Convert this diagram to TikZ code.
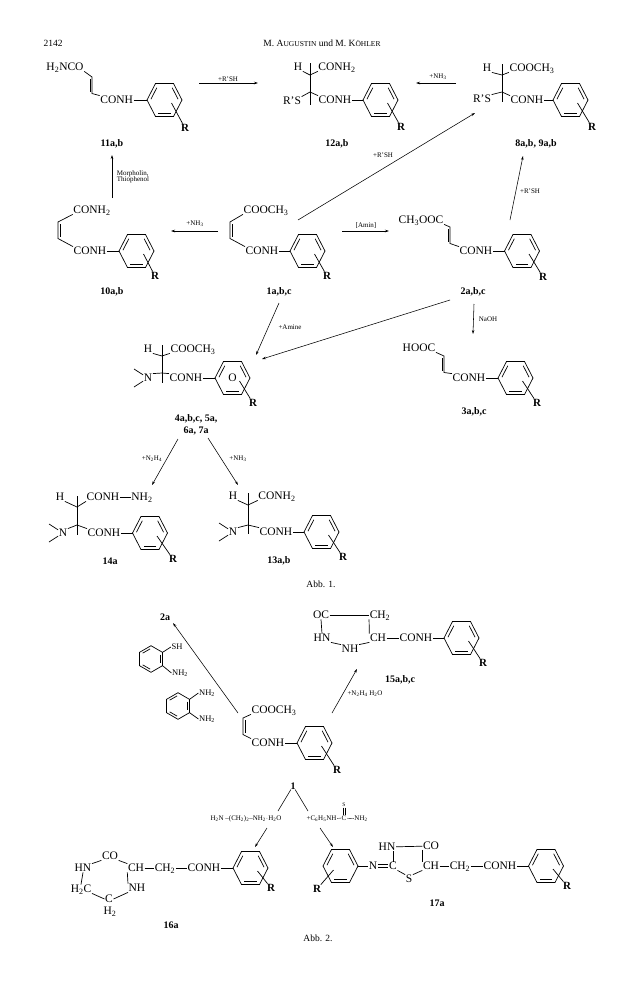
\documentclass[tikz,border=0pt]{standalone}
\usepackage{fontspec}
\setmainfont{Liberation Serif}
\usetikzlibrary{calc, arrows.meta}
\newcommand{\sbs}[1]{\textsubscript{#1}}
\newcommand{\kap}[1]{{\fontsize{7.5}{8}\selectfont #1}}
\tikzset{
bond/.style={line width=.7pt},
inbond/.style={line width=.7pt, shorten <=1pt, shorten >=1pt},
rxn/.style={line width=.55pt, -{Stealth[length=4pt, width=2.5pt]}},
atom/.style={inner sep=.5pt, text height=7.4pt, text depth=0pt, font=\fontsize{11.5}{12}\selectfont},
reagent/.style={inner sep=.5pt, font=\fontsize{7}{8}\selectfont, align=left},
cpd/.style={inner sep=0pt, font=\fontsize{10}{12}\selectfont\bfseries, align=center},
caption/.style={inner sep=0pt, font=\fontsize{9.5}{11}\selectfont},
aryl/.pic={
  \foreach \pn/\px/\py in {1/17.5/0, 2/9/16.5, 3/-9/16.5, 4/-17.5/0, 5/-9/-16.5, 6/9/-16.5}
      \coordinate (-c\pn) at (\px,\py);
  \coordinate (-o) at (0,0);
  \coordinate (-s) at (7,3);
  \coordinate (-t) at (-7,4);
  \draw [bond] (-c1) -- (-c2) -- (-c3) -- (-c4) -- (-c5) -- (-c6) -- cycle;
  \draw [inbond] ($(-c4)!.2!(-o)$) -- ($(-c5)!.2!(-o)$);
  \draw [inbond] ($(-c6)!.2!(-o)$) -- ($(-c1)!.2!(-o)$);
  \draw [inbond] ($(-c2)!.2!(-o)$) -- ($(-c3)!.2!(-o)$);
},
ortho/.pic={
  \foreach \pn/\pa in {1/30, 2/90, 3/150, 4/210, 5/270, 6/330}
      \coordinate (-c\pn) at (\pa:13.3);
  \coordinate (-o) at (0,0);
  \draw [bond] (-c1) -- (-c2) -- (-c3) -- (-c4) -- (-c5) -- (-c6) -- cycle;
  \draw [inbond] ($(-c6)!.2!(-o)$) -- ($(-c1)!.2!(-o)$);
  \draw [inbond] ($(-c2)!.2!(-o)$) -- ($(-c3)!.2!(-o)$);
  \draw [inbond] ($(-c4)!.2!(-o)$) -- ($(-c5)!.2!(-o)$);
}}
\begin{document}
\begin{tikzpicture}[x=1pt, y=-1pt]
\useasboundingbox (0,0) rectangle (624,1004);
% page head and captions
\node [caption] (page) at (53,43) {2142};
\node [caption] (head) at (322,43) {M. A\kap{UGUSTIN} und M. K\kap{ÖHLER}};
\node [caption] (abb1) at (321,584) {Abb. 1.};
\node [caption] (abb2) at (318,938) {Abb. 2.};
% rings with their R
\foreach \rn/\rx/\ry/\qx/\qy in {11/164.5/100/185/128, 10/136.5/251/155/276, 1/307.5/251/327/276,
    2/522/251/543/277, 12/380.5/100/401/127, 8/570.5/100/592/127, 4/232.5/378/253/403,
    3/515.5/378/537/403, 14/150/533/173/559, 13/321.5/532/343/557, 20/314.5/743/337/770,
    15/461.5/638/483/663, 16/250.5/868/271/888, 17/546/866/567/886}{
  \pic (r\rn) at (\rx,\ry) {aryl};
  \node [atom, font=\fontsize{11}{12}\selectfont\bfseries] (R\rn) at (\qx,\qy) {R};
  \draw [bond] (r\rn-s) -- (R\rn);
}
\pic (r18) at (340.5,866) {aryl};
\node [atom, font=\fontsize{11}{12}\selectfont\bfseries] (R18) at (317,889) {R};
\draw [bond] (r18-t) -- (R18);
\node [atom] (ox) at (232.5,378) {O};
% C=C chains
\foreach \cn/\cx/\cy/\ci/\tx/\ty/\ttxt/\ax/\ay/\tanc in {
    {11/92/77/-2/65/67/H\sbs{2}NCO/116.7/100/south east},
    {10/58/222/2/92/210/CONH\sbs{2}/90/251/south west},
    {1/230/222/2/266/210/COOCH\sbs{3}/262/251/south west},
    {2/450/227/-2/421/220/CH\sbs{3}OOC/476/251/south east},
    {3/444/356/-2/419/348/HOOC/469/378/south east},
    {20/243/718/2/274/710/COOCH\sbs{3}/268/743/south west}}{
  \node [atom] (t\cn) at (\tx,\ty) {\ttxt};
  \node [atom] (a\cn) at (\ax,\ay) {CONH};
  \coordinate (u\cn) at (\cx,\cy);
  \coordinate (l\cn) at ($(u\cn)+(0,16.5)$);
  \coordinate (uu\cn) at ($(u\cn)+(\ci,2)$);
  \coordinate (ll\cn) at ($(l\cn)+(\ci,-2)$);
  \draw [bond] (t\cn.\tanc) -- (u\cn) -- (l\cn) -- (a\cn.north west);
  \draw [bond] (uu\cn) -- (ll\cn);
  \draw [bond] (a\cn.east) -- (r\cn-c4);
}
% saturated chains
\foreach \cn/\vx/\ya/\yb/\yc/\yd/\hx/\hy/\tx/\ty/\ttxt/\qx/\qy/\qtxt/\ax/\ay in {
    {12/310/63/75/92/105/298/67/337/67/CONH\sbs{2}/292/101/R'S/335/100},
    {8/502/64/75/92/102/487/68/532/68/COOCH\sbs{3}/482/99/R'S/527/100},
    {4/162/345/356/373/383/148/349/193/349/COOCH\sbs{3}/148/378/N/186/378},
    {14/77/496/507/525/535/60/497/103/497/CONH/63/533/N/104/533},
    {13/248/493/505/525/534/233/496/277/496/CONH\sbs{2}/233/532/N/276/532}}{
  \node [atom] (h\cn) at (\hx,\hy) {H};
  \node [atom] (t\cn) at (\tx,\ty) {\ttxt};
  \node [atom] (x\cn) at (\qx,\qy) {\qtxt};
  \node [atom] (a\cn) at (\ax,\ay) {CONH};
  \coordinate (va\cn) at (\vx,\ya);
  \coordinate (vb\cn) at (\vx,\yb);
  \coordinate (vc\cn) at (\vx,\yc);
  \coordinate (vd\cn) at (\vx,\yd);
  \draw [bond] (va\cn) -- (vd\cn);
  \draw [bond] (h\cn.south east) -- (vb\cn) -- (t\cn.south west);
  \draw [bond] (x\cn.north east) -- (vc\cn) -- (a\cn.north west);
  \draw [bond] (a\cn.east) -- (r\cn-c4);
}
\foreach \cn in {4, 14, 13}{
  \coordinate (ma\cn) at ($(x\cn)+(-14,-9)$);
  \coordinate (mb\cn) at ($(x\cn)+(-14,9)$);
  \draw [bond] (ma\cn) -- (x\cn);
  \draw [bond] (mb\cn) -- (x\cn);
}
\node [atom] (e14) at (142,497) {NH\sbs{2}};
\draw [bond] (t14) -- (e14);
% reaction arrows
\foreach \an/\ax/\ay/\bx/\by in {a/199/83/258/83, b/456/83/416/83, c/112/198/112/155, d/218/231/171/231,
    e/342/231/389/231, f/298/220/475/113, g/510/220/523/156, h/279/303/256/355, i/450/300/262/359,
    j/474/304/473/334, k/178/439/152/485, l/208/438/238/485, m/238/713/173/623, n/332/713/357/669,
    o/267/828/255/847, p/320/828/333/847}{
  \coordinate (s\an) at (\ax,\ay);
  \coordinate (e\an) at (\bx,\by);
  \draw [rxn] (s\an) -- (e\an);
}
% arrow labels
\foreach \ln/\lx/\ly/\ltxt in {{la/228/79/+R'SH}, {lb/438/77/+NH\sbs{3}}, {ld/195/224/+NH\sbs{3}},
    {le/366/226/[Amin]}, {lf/383/155/+R'SH}, {lg/530/191/+R'SH}, {lh/290/327/+Amine}, {lj/488/319/NaOH},
    {lk/152/459/+N\sbs{2}H\sbs{4}}, {ll/238/459/+NH\sbs{3}}, {ln/365/694/+N\sbs{2}H\sbs{4} H\sbs{2}O},
    {lo/246/819/H\sbs{2}N --(CH\sbs{2})\sbs{2}--NH\sbs{2}$\cdot$H\sbs{2}O}}
  \node [reagent] (\ln) at (\lx,\ly) {\ltxt};
\node [reagent] (lc) at (133,177) {Morpholin,\\[-1.5pt]Thiophenol};
% compound numbers
\foreach \nn/\nx/\ny/\ntxt in {{n11/112/144/11a,b}, {n12/337/144/12a,b}, {n8/536/144/8a,b, 9a,b},
    {n10/112/292/10a,b}, {n1/279/292/1a,b,c}, {n2/473/292/2a,b,c}, {n3/474/412/3a,b,c},
    {n14/110/561/14a}, {n13/279/561/13a,b}, {n2a/165/617/2a}, {n15/400/680/15a,b,c},
    {n16/171/925/16a}, {n17/437/903/17a}}
  \node [cpd] (\nn) at (\nx,\ny) {\ntxt};
\node [cpd] (n4) at (196,425) {4a,b,c, 5a,\\6a, 7a};
% aminothiophenol and phenylenediamine
\pic (ts) at (151,659) {ortho};
\node [atom, font=\fontsize{8.5}{9}\selectfont, text height=5.6pt] (sh) at (177,647) {SH};
\node [atom, font=\fontsize{8.5}{9}\selectfont, text height=5.6pt] (nh1) at (180,673) {NH\sbs{2}};
\draw [bond] (ts-c6) -- (sh.west);
\draw [bond] (ts-c1) -- (nh1.west);
\pic (pd) at (178,706) {ortho};
\node [atom, font=\fontsize{8.5}{9}\selectfont, text height=5.6pt] (nh2) at (207,693) {NH\sbs{2}};
\node [atom, font=\fontsize{8.5}{9}\selectfont, text height=5.6pt] (nh3) at (207,719) {NH\sbs{2}};
\draw [bond] (pd-c6) -- (nh2.west);
\draw [bond] (pd-c1) -- (nh3.west);
% 15a
\node [atom] (p1) at (321,615) {OC};
\node [atom] (p2) at (380,615) {CH\sbs{2}};
\node [atom] (p3) at (322,638) {HN};
\node [atom] (p4) at (350,649) {NH};
\node [atom] (p5) at (378,638) {CH};
\node [atom] (p6) at (416,638) {CONH};
\draw [bond] (p1) -- (p2);
\draw [bond] (p1.south) -- (p3.north);
\draw [bond] (p3.south east) -- (p4.north west);
\draw [bond] (p4.north east) -- (p5.south west);
\draw [bond] (p2.south west) -- (p5.north west);
\draw [bond] (p5) -- (p6);
\draw [bond] (p6.east) -- (r15-c4);
% branches from 1
\node [cpd] (one) at (293,786) {1};
\coordinate (ka) at (278,811);
\coordinate (kb) at (308,811);
\draw [line width=.55pt] (one) -- (ka);
\draw [line width=.55pt] (one) -- (kb);
\node [reagent] (ua) at (321.5,819) {+C\sbs{6}H\sbs{5}NH};
\node [reagent] (ub) at (344,818) {C};
\node [reagent] (uc) at (361,819) {NH\sbs{2}};
\node [reagent, font=\fontsize{5.5}{6}\selectfont] (ud) at (344,805) {S};
\draw [line width=.4pt] (ua) -- (ub);
\draw [line width=.4pt] (ub) -- (uc);
\draw [line width=.4pt] ([xshift=-1pt]ud.south) -- ([xshift=-1pt]ub.north);
\draw [line width=.4pt] ([xshift=1pt]ud.south) -- ([xshift=1pt]ub.north);
% 16a
\node [atom] (q1) at (110,856) {CO};
\node [atom] (q2) at (83,868) {HN};
\node [atom] (q3) at (136,868) {CH};
\node [atom] (q4) at (81,889) {H\sbs{2}C};
\node [atom] (q5) at (137,888) {NH};
\node [atom] (q6) at (109,899) {C};
\node [atom] (q7) at (110,911) {H\sbs{2}};
\node [atom] (q8) at (165,868) {CH\sbs{2}};
\node [atom] (q9) at (204,868) {CONH};
\draw [bond] (q2.north east) -- (q1.south west);
\draw [bond] (q1.south east) -- (q3.north west);
\draw [bond] (q2.south) -- (q4.north);
\draw [bond] (q3.south west) -- (q5.north west);
\draw [bond] (q4.south east) -- (q6.west);
\draw [bond] (q6.east) -- (q5.south west);
\draw [bond] (q3) -- (q8);
\draw [bond] (q8) -- (q9);
\draw [bond] (q9.east) -- (r16-c4);
% 17a
\node [atom] (w1) at (373,866) {N};
\node [atom] (w2) at (393,866) {C};
\node [atom] (w3) at (387,847) {HN};
\node [atom] (w4) at (431,846) {CO};
\node [atom] (w5) at (409,879) {S};
\node [atom] (w6) at (431,866) {CH};
\node [atom] (w7) at (460,866) {CH\sbs{2}};
\node [atom] (w8) at (500,866) {CONH};
\draw [bond] (r18-c1) -- (w1.west);
\draw [bond] ([yshift=1.2pt]w1.east) -- ([yshift=1.2pt]w2.west);
\draw [bond] ([yshift=-1.2pt]w1.east) -- ([yshift=-1.2pt]w2.west);
\draw [bond] (w3) -- (w4);
\draw [bond] (w2.north) -- (w2.north |- w3.south);
\draw [bond] (w2.south east) -- (w5.north west);
\draw [bond] (w5.north east) -- (w6.south west);
\draw [bond] (w4.south west) -- (w6.north west);
\draw [bond] (w6) -- (w7);
\draw [bond] (w7) -- (w8);
\draw [bond] (w8.east) -- (r17-c4);
\end{tikzpicture}
\end{document}
